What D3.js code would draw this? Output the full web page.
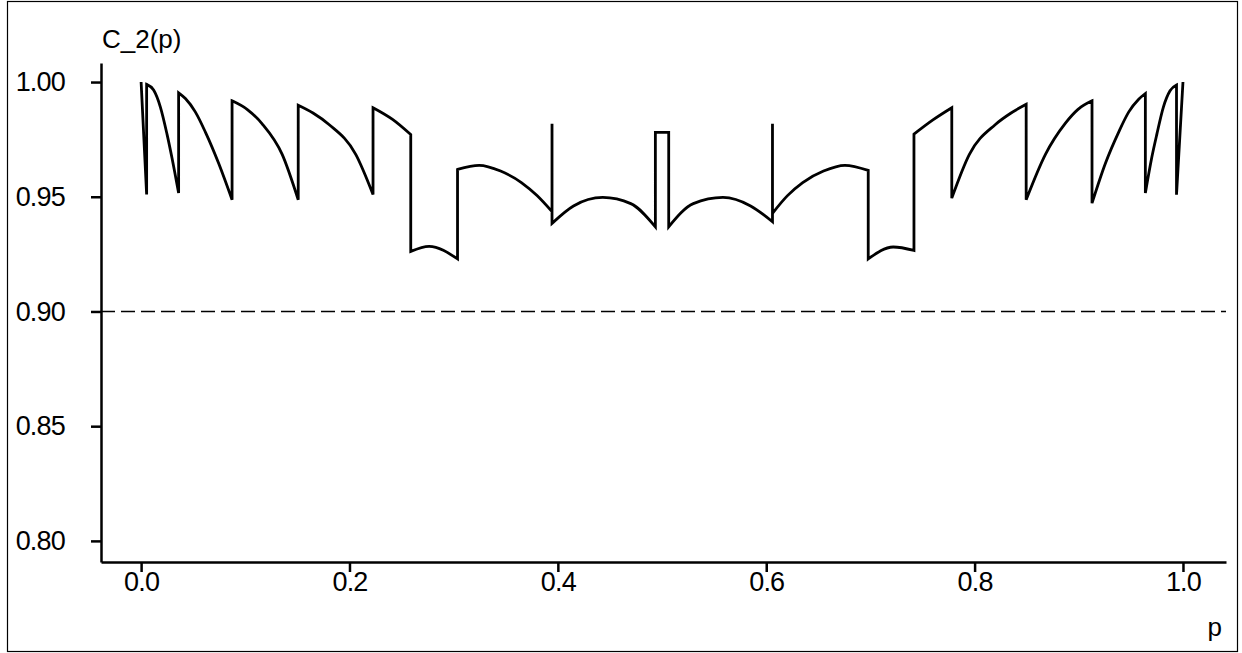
<!DOCTYPE html>
<html>
<head>
<meta charset="utf-8">
<script src="https://cdn.jsdelivr.net/npm/d3@7"></script>
<style>
  body { margin: 0; background: #fff; }
  text { font-family: "Liberation Sans", Arial, sans-serif; fill: #000; }
</style>
</head>
<body>
<div id="coverage-plot"></div>
<script>
// tick values and labels
const xTicks = [0, 0.2, 0.4, 0.6, 0.8, 1.0];
const yTicks = [0.80, 0.85, 0.90, 0.95, 1.00];
const nominalLevel = 0.90;
const xLabel = "p";
const yLabel = "C_2(p)";

// coverage curve as [p, C_2(p)] pieces;
// consecutive pieces are joined by the vertical jumps
const coveragePieces = [
  [[0.0000, 1.0000], [0.0053, 0.9510]],
  [[0.0053, 0.9990], [0.0120, 0.9965], [0.0185, 0.9891], [0.0248, 0.9774], [0.0296, 0.9670], [0.0360, 0.9516]],
  [[0.0360, 0.9953], [0.0425, 0.9928], [0.0520, 0.9870], [0.0617, 0.9782], [0.0745, 0.9645], [0.0873, 0.9487]],
  [[0.0873, 0.9918], [0.1020, 0.9880], [0.1162, 0.9818], [0.1354, 0.9685], [0.1508, 0.9487]],
  [[0.1508, 0.9899], [0.1650, 0.9865], [0.1803, 0.9815], [0.2060, 0.9685], [0.2226, 0.9510]],
  [[0.2226, 0.9888], [0.2410, 0.9838], [0.2588, 0.9771]],
  [[0.2588, 0.9262], [0.2764, 0.9284], [0.3037, 0.9229]],
  [[0.3037, 0.9619], [0.3245, 0.9637], [0.3450, 0.9612], [0.3650, 0.9562], [0.3800, 0.9505], [0.3944, 0.9435]],
  [[0.3944, 0.9818]],
  [[0.3944, 0.9384], [0.4150, 0.9460], [0.4431, 0.9497], [0.4700, 0.9470], [0.4936, 0.9369]],
  [[0.4936, 0.9781], [0.5064, 0.9781]],
  [[0.5064, 0.9369], [0.5300, 0.9470], [0.5585, 0.9497], [0.5850, 0.9460], [0.6060, 0.9391]],
  [[0.6060, 0.9818]],
  [[0.6060, 0.9428], [0.6204, 0.9505], [0.6350, 0.9562], [0.6550, 0.9612], [0.6755, 0.9637], [0.6979, 0.9615]],
  [[0.6979, 0.9229], [0.7219, 0.9281], [0.7418, 0.9266]],
  [[0.7418, 0.9773], [0.7600, 0.9835], [0.7781, 0.9888]],
  [[0.7781, 0.9494], [0.7950, 0.9685], [0.8200, 0.9815], [0.8350, 0.9865], [0.8495, 0.9903]],
  [[0.8495, 0.9487], [0.8680, 0.9685], [0.8870, 0.9820], [0.8990, 0.9880], [0.9127, 0.9918]],
  [[0.9127, 0.9472], [0.9255, 0.9645], [0.9383, 0.9782], [0.9480, 0.9870], [0.9575, 0.9925], [0.9639, 0.9950]],
  [[0.9639, 0.9516], [0.9700, 0.9670], [0.9750, 0.9774], [0.9812, 0.9891], [0.9876, 0.9962], [0.9938, 0.9987]],
  [[0.9938, 0.9509], [1.0000, 1.0000]]
];

const width = 1242, height = 653;

const svg = d3.select("#coverage-plot")
  .append("svg")
    .attr("width", width)
    .attr("height", height);

// outer frame
svg.append("rect")
  .attr("x", 7.5).attr("y", 1.5)
  .attr("width", 1230).attr("height", 650)
  .attr("fill", "none")
  .attr("stroke", "#000")
  .attr("stroke-width", 1.2);

const x = d3.scaleLinear().domain([-0.0385, 1.0413]).range([101, 1226]);
const y = d3.scaleLinear().domain([0.7908, 1.0083]).range([562, 63]);

// axes
const xAxis = svg.append("g")
  .attr("transform", "translate(0,562)")
  .call(d3.axisBottom(x).tickValues(xTicks).tickFormat(d3.format(".1f"))
        .tickSize(10).tickSizeOuter(0).tickPadding(0));

const yAxis = svg.append("g")
  .attr("transform", "translate(101,0)")
  .call(d3.axisLeft(y).tickValues(yTicks).tickFormat(d3.format(".2f"))
        .tickSize(10).tickSizeOuter(0).tickPadding(26));

[xAxis, yAxis].forEach(g => {
  g.select(".domain").attr("stroke-width", 2.5);
  g.selectAll(".tick line").attr("stroke-width", 2.5);
  g.selectAll(".tick text")
    .attr("font-size", 27)
    .attr("letter-spacing", "-0.8px")
    .attr("font-family", "Liberation Sans, Arial, sans-serif")
    .attr("fill", "#000");
});

// reference line at the nominal level
svg.append("line")
  .attr("x1", x.range()[0]).attr("x2", x.range()[1])
  .attr("y1", y(nominalLevel)).attr("y2", y(nominalLevel))
  .attr("stroke", "#000")
  .attr("stroke-width", 1.4)
  .attr("stroke-dasharray", "14,6");

// coverage curve: smooth pieces linked by straight jumps
const line = d3.line()
  .x(d => x(d[0]))
  .y(d => y(d[1]))
  .curve(d3.curveMonotoneX);

const pathD = coveragePieces.map((piece, i) => {
  const s = piece.length > 1 ? line(piece) : "M" + x(piece[0][0]) + "," + y(piece[0][1]);
  return i === 0 ? s : "L" + s.slice(1);
}).join("");

svg.append("path")
  .attr("d", pathD)
  .attr("fill", "none")
  .attr("stroke", "#000")
  .attr("stroke-width", 2.8)
  .attr("stroke-linejoin", "miter");

// axis titles
svg.append("text")
  .attr("x", 102).attr("y", 48)
  .attr("font-size", 26)
  .text(yLabel);

svg.append("text")
  .attr("x", 1222).attr("y", 636)
  .attr("text-anchor", "end")
  .attr("font-size", 26)
  .text(xLabel);
</script>
</body>
</html>
